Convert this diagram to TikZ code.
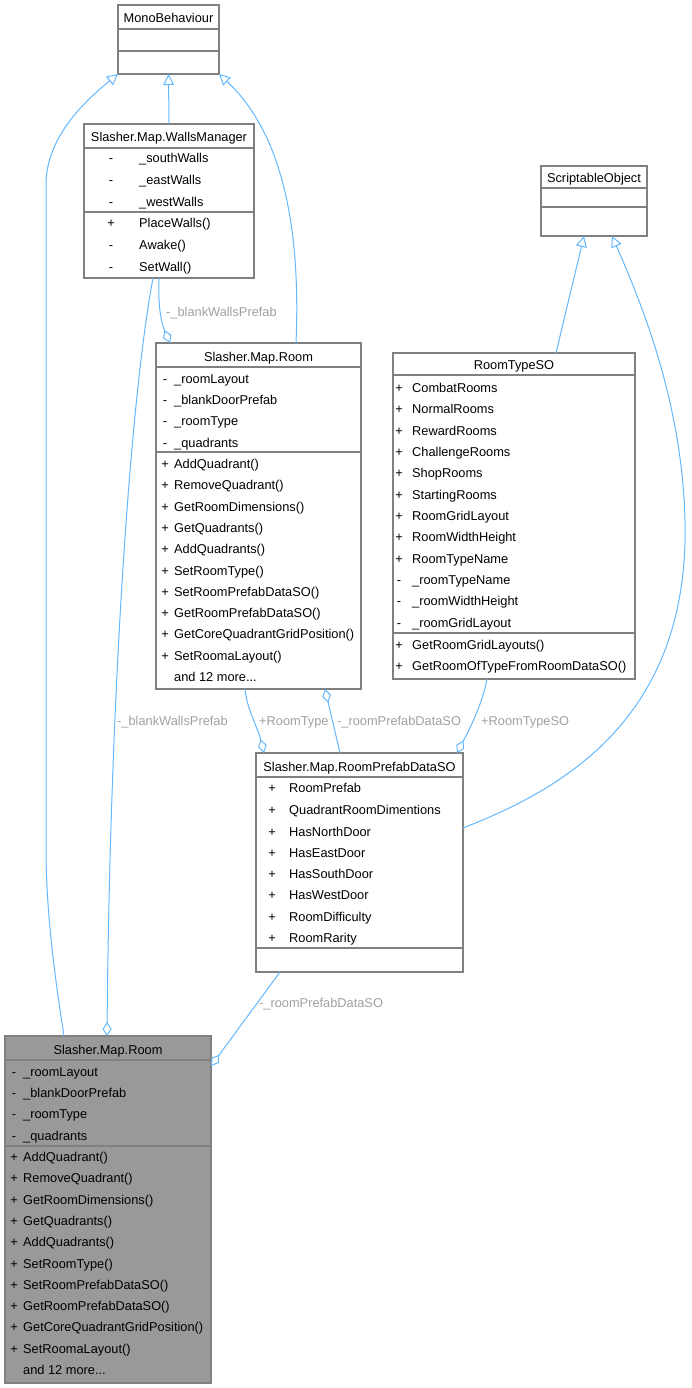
\documentclass[tikz,border=0pt]{standalone}
\usepackage{fontspec}
\setmainfont{Liberation Sans}
\usetikzlibrary{arrows.meta,calc}

\definecolor{edgeblue}{HTML}{63B8FF}
\definecolor{boxgray}{HTML}{808080}
\definecolor{labelgray}{HTML}{A0A0A0}
\definecolor{hlgray}{HTML}{999999}

% rows shared by both Room boxes: offset from top / visibility / text
\def\roomrows{35/-/\_roomLayout, 56/-/\_blankDoorPrefab, 77/-/\_roomType,
  99/-/\_quadrants, 120/+/AddQuadrant(), 141/+/RemoveQuadrant(),
  163/+/GetRoomDimensions(), 184/+/GetQuadrants(), 205/+/AddQuadrants(),
  227/+/SetRoomType(), 248/+/SetRoomPrefabDataSO(), 269/+/GetRoomPrefabDataSO(),
  290/+/GetCoreQuadrantGridPosition(), 312/+/SetRoomaLayout()}

\begin{document}
\begin{tikzpicture}[
                        x = 1pt, y = -1pt,
                     font = \fontsize{12.8}{15}\selectfont,
              cls/.style = {rectangle, draw=boxgray, line width=1.1pt,
                            anchor=north west, inner sep=0pt, outer sep=0pt},
               hl/.style = {fill=hlgray},
              sep/.style = {draw=boxgray, line width=1.1pt},
            title/.style = {inner sep=0pt, text height=11pt, text depth=1pt},
              row/.style = {anchor=west, inner sep=0pt, text height=11pt, text depth=1pt},
              vis/.style = {anchor=center, inner sep=0pt, text height=11pt, text depth=1pt},
           elabel/.style = {text=labelgray, anchor=west, inner sep=0pt,
                            text height=11pt, text depth=1pt},
             link/.style = {draw=edgeblue, line width=1pt},
          inherit/.style = {link, -{Triangle[open, length=11pt, width=11pt]}},
             owns/.style = {link, {Diamond[open, length=14pt, width=9pt]}-},
            ]

    \useasboundingbox (0,0) rectangle (691,1388);

    % class boxes
    \node[cls, minimum width=101pt, minimum height=69pt] (mono) at (118,5) {};
    \node[cls, minimum width=170pt, minimum height=154pt] (wm) at (84,124) {};
    \node[cls, minimum width=205pt, minimum height=346pt] (room) at (156,343) {};
    \node[cls, minimum width=106pt, minimum height=70pt] (so) at (541,166) {};
    \node[cls, minimum width=242pt, minimum height=326pt] (rt) at (393,353) {};
    \node[cls, minimum width=207pt, minimum height=219pt] (pd) at (256,753) {};
    \node[cls, hl, minimum width=206pt, minimum height=347pt] (room2) at (5,1036) {};

    \draw[sep] (118,29) -- (219,29) (118,51) -- (219,51);
    \draw[sep] (84,148) -- (254,148) (84,212) -- (254,212);
    \draw[sep] (156,367) -- (361,367) (156,452) -- (361,452);
    \draw[sep] (541,188) -- (647,188) (541,207) -- (647,207);
    \draw[sep] (393,375) -- (635,375) (393,633) -- (635,633);
    \draw[sep] (256,777) -- (463,777) (256,948) -- (463,948);
    \draw[sep] (5,1060) -- (211,1060) (5,1146) -- (211,1146);

    % titles
    \node[title] (mono-t) at (168.5,18) {MonoBehaviour};
    \node[title] (wm-t) at (169,137) {Slasher.Map.WallsManager};
    \node[title] (room-t) at (258.5,356) {Slasher.Map.Room};
    \node[title] (so-t) at (594,178) {ScriptableObject};
    \node[title] (rt-t) at (514,364) {RoomTypeSO};
    \node[title] (pd-t) at (359.5,766) {Slasher.Map.RoomPrefabDataSO};
    \node[title] (room2-t) at (108,1049) {Slasher.Map.Room};

    % members
    \foreach \y/\m/\t [count=\i] in {158/-/\_southWalls, 180/-/\_eastWalls,
        202/-/\_westWalls, 223/+/PlaceWalls(), 244/-/Awake(), 266/-/SetWall()}{%
        \node[vis] (wm-m\i) at (111,\y) {\m};
        \node[row] (wm-r\i) at (139,\y) {\t};
    }

    \foreach \b/\bx/\by in {room/156/343, room2/5/1036}{%
        \foreach \dy/\m/\t [count=\i] in \roomrows{%
            \node[vis] (\b-m\i) at (\bx+9,\by+\dy) {\m};
            \node[row] (\b-r\i) at (\bx+18,\by+\dy) {\t};
        }
        \node[row] (\b-more) at (\bx+18,\by+333) {and 12 more...};
    }

    \foreach \y/\m/\t [count=\i] in {387/+/CombatRooms, 408/+/NormalRooms,
        430/+/RewardRooms, 451/+/ChallengeRooms, 472/+/ShopRooms,
        494/+/StartingRooms, 515/+/RoomGridLayout, 536/+/RoomWidthHeight,
        558/+/RoomTypeName, 579/-/\_roomTypeName, 600/-/\_roomWidthHeight,
        622/-/\_roomGridLayout, 644/+/GetRoomGridLayouts(),
        665/+/GetRoomOfTypeFromRoomDataSO()}{%
        \node[vis] (rt-m\i) at (399,\y) {\m};
        \node[row] (rt-r\i) at (412,\y) {\t};
    }

    \foreach \y/\t [count=\i] in {787/RoomPrefab, 809/QuadrantRoomDimentions,
        831/HasNorthDoor, 852/HasEastDoor, 873/HasSouthDoor, 894/HasWestDoor,
        916/RoomDifficulty, 937/RoomRarity}{%
        \node[vis] (pd-m\i) at (272,\y) {+};
        \node[row] (pd-r\i) at (289,\y) {\t};
    }

    % inheritance
    \draw[inherit] (wm.north) -- (mono.south);
    \draw[inherit] ($(room2.north west)+(59,0)$) .. controls (52,960) and (46,900) .. (46,850)
        -- (46,185) .. controls (46,140) and (80,105) .. (mono.south west);
    \draw[inherit] ($(room.north west)+(140,0)$) .. controls (300,250) and (290,140) .. (mono.south east);
    \draw[inherit] ($(rt.north west)+(163,0)$) -- ($(so.south west)+(43,0)$);
    \draw[inherit] ($(pd.north east)+(0,75)$) .. controls (560,790) and (690,720) .. (685,520)
        .. controls (682,400) and (640,300) .. ($(so.south west)+(71,0)$);

    % usage
    \draw[owns] ($(room.north west)+(14,0)$) .. controls (160,320) and (158,300) .. ($(wm.south west)+(75,0)$);
    \draw[owns] ($(room2.north west)+(102,0)$) .. controls (110,700) and (130,400) .. ($(wm.south west)+(69,0)$);
    \draw[owns] ($(pd.north west)+(8,0)$) .. controls (258,728) and (247,710) .. ($(room.south west)+(89,0)$);
    \draw[owns] ($(room.south west)+(169,0)$) -- ($(pd.north west)+(84,0)$);
    \draw[owns] ($(pd.north west)+(201,0)$) .. controls (470,728) and (482,705) .. ($(rt.south west)+(94,0)$);
    \draw[owns] ($(room2.north east)+(0,30)$) -- ($(pd.south west)+(24,0)$);

    \node[elabel] (l-wall1) at (166,311) {-\_blankWallsPrefab};
    \node[elabel] (l-wall2) at (117,720) {-\_blankWallsPrefab};
    \node[elabel] (l-type) at (259,720) {+RoomType};
    \node[elabel] (l-data1) at (337,720) {-\_roomPrefabDataSO};
    \node[elabel] (l-typeso) at (481,720) {+RoomTypeSO};
    \node[elabel] (l-data2) at (259,1002) {-\_roomPrefabDataSO};
\end{tikzpicture}
\end{document}
